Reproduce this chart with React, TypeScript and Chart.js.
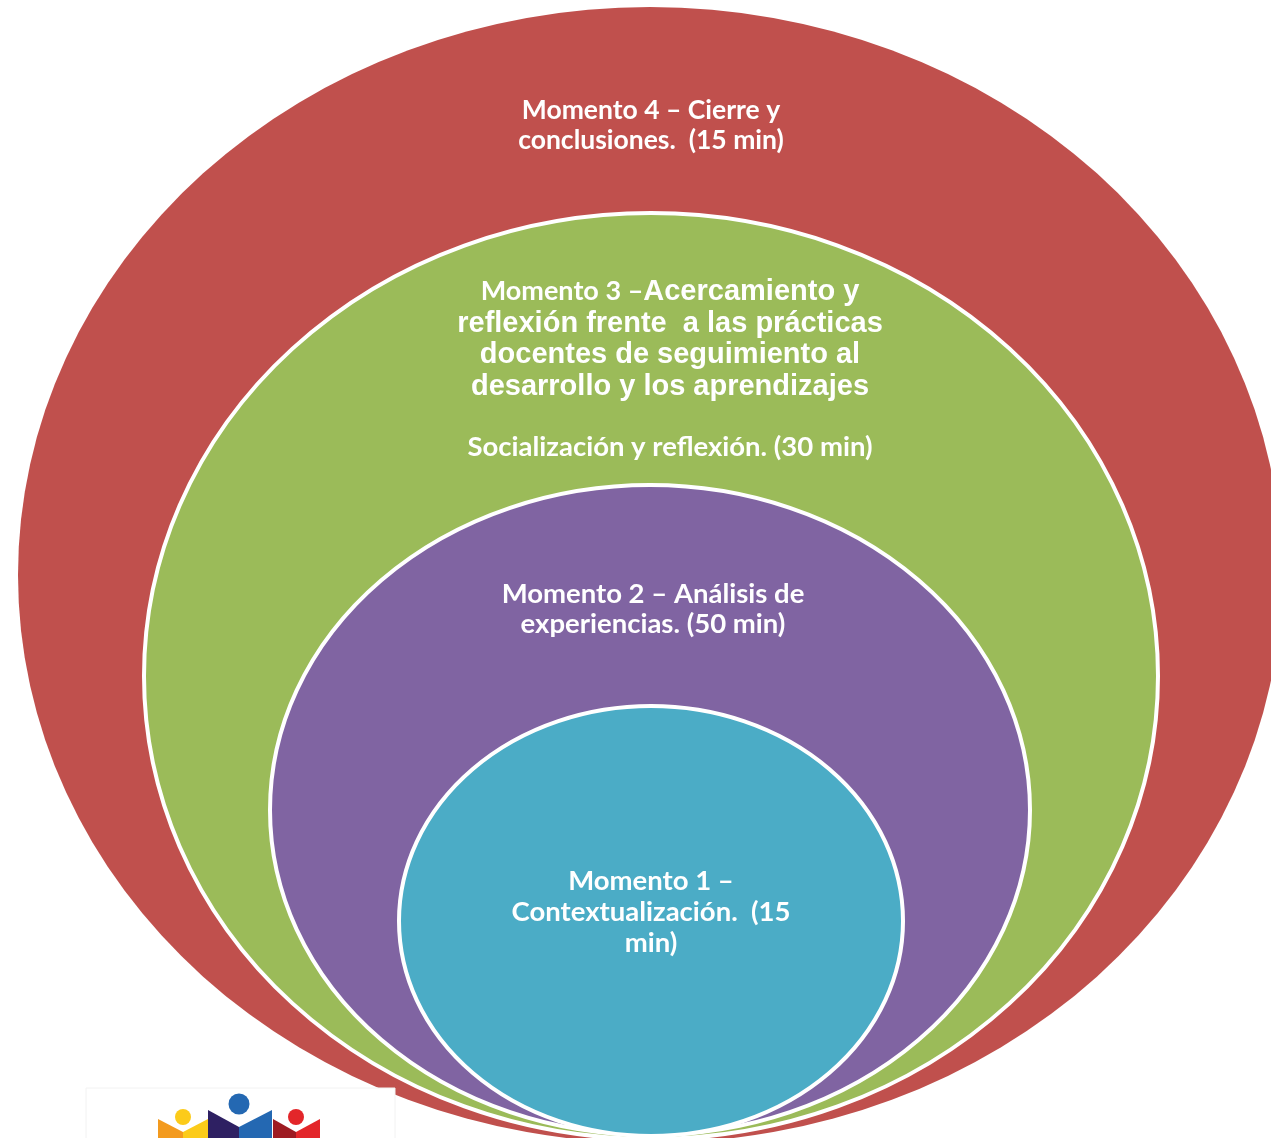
import React, { useEffect, useRef } from 'react';
import { Chart, registerables } from 'chart.js';

Chart.register(...registerables);

const W = 1271;
const H = 1138;

// Moments of the session, from outermost ring to innermost
const moments = ['Momento 4', 'Momento 3', 'Momento 2', 'Momento 1'];
const durationsMin = [15, 30, 50, 15];

// Ellipse geometry in chart units (x: 0..1271, y: 0..1138, y grows downward)
const ellipseCenterX = [650, 651, 650, 651];
const ellipseCenterY = [575, 676, 810, 921];
const ellipseRadiusX = [632, 507, 380, 252];
const ellipseRadiusY = [568, 463, 325, 215];
const ellipseColors = ['#C0504D', '#9BBB59', '#8064A2', '#4BACC6'];

// Label text (a "|" splits a line into two fonts)
const label4Lines = ['Momento 4 – Cierre y', 'conclusiones.  (15 min)'];
const label3Lines = [
  'Momento 3 –|Acercamiento y',
  '|reflexión frente  a las prácticas',
  '|docentes de seguimiento al',
  '|desarrollo y los aprendizajes',
  '',
  'Socialización y reflexión. (30 min)',
];
const label2Lines = ['Momento 2 – Análisis de', 'experiencias. (50 min)'];
const label1Lines = ['Momento 1 –', 'Contextualización.  (15', 'min)'];

const labelBlocks = [label4Lines, label3Lines, label2Lines, label1Lines];
const labelCenterX = [651, 670, 653, 651];
const labelFirstBaseline = [119, 300, 603, 890];
const labelLineGap = [30, 31.5, 30, 31];
const socializationBaseline = 456;

const fontA = (size: number) => `bold ${size}px Lato, "Open Sans", sans-serif`;
const FONT_B = 'bold 29px "Liberation Sans", Arial, sans-serif';
const blockFontSize = [26.5, 27.5, 27.5, 27.5];
const momento3PrefixSize = 27;

const nestedEllipsesPlugin = {
  id: 'nestedEllipses',
  beforeDatasetsDraw(chart: any) {
    const { ctx, scales } = chart;
    const xs = scales.x;
    const ys = scales.y;
    chart.data.datasets.forEach((ds: any, i: number) => {
      const p = ds.data[0];
      const cx = xs.getPixelForValue(p.x);
      const cy = ys.getPixelForValue(p.y);
      const rx = Math.abs(xs.getPixelForValue(p.x + ellipseRadiusX[i]) - cx);
      const ry = Math.abs(ys.getPixelForValue(p.y + ellipseRadiusY[i]) - cy);
      ctx.save();
      ctx.beginPath();
      ctx.ellipse(cx, cy, rx, ry, 0, 0, Math.PI * 2);
      ctx.fillStyle = ds.backgroundColor;
      ctx.fill();
      if (i > 0) {
        ctx.lineWidth = 4;
        ctx.strokeStyle = '#FFFFFF';
        ctx.stroke();
      }
      ctx.restore();
    });
  },
  afterDatasetsDraw(chart: any) {
    const { ctx, scales } = chart;
    const xs = scales.x;
    const ys = scales.y;
    ctx.save();
    ctx.fillStyle = '#FFFFFF';
    ctx.textBaseline = 'alphabetic';
    labelBlocks.forEach((lines, b) => {
      const cx = xs.getPixelForValue(labelCenterX[b]);
      lines.forEach((line, li) => {
        if (!line) return;
        let yVal = labelFirstBaseline[b] + li * labelLineGap[b];
        if (b === 1 && li === 5) yVal = socializationBaseline;
        const y = ys.getPixelForValue(yVal);
        if (line.includes('|')) {
          const [a, c] = line.split('|');
          const fa = fontA(momento3PrefixSize);
          ctx.font = fa;
          const wa = a ? ctx.measureText(a).width : 0;
          ctx.font = FONT_B;
          const wc = ctx.measureText(c).width;
          let x0 = cx - (wa + wc) / 2;
          ctx.textAlign = 'left';
          if (a) {
            ctx.font = fa;
            ctx.fillText(a, x0, y);
            x0 += wa;
          }
          ctx.font = FONT_B;
          ctx.fillText(c, x0, y);
        } else {
          ctx.font = fontA(blockFontSize[b]);
          ctx.textAlign = 'center';
          ctx.fillText(line, cx, y);
        }
      });
    });
    ctx.restore();
  },
  afterDraw(chart: any) {
    const { ctx, scales } = chart;
    const px = (v: number) => scales.x.getPixelForValue(v);
    const py = (v: number) => scales.y.getPixelForValue(v);
    ctx.save();
    // faint logo frame
    ctx.strokeStyle = '#F2F2F2';
    ctx.lineWidth = 1;
    ctx.fillStyle = '#FFFFFF';
    ctx.beginPath();
    ctx.rect(px(86), py(1088), px(395) - px(86), py(1140) - py(1088));
    ctx.fill();
    ctx.stroke();
    const figures = [
      { c: 183, l: 158, r: 208, top: 1119, v: 1132, hy: 1117, hr: 8, cl: '#F39A1E', cr: '#FCCB1A', ch: '#FCCB1A' },
      { c: 239, l: 208, r: 272, top: 1110, v: 1127, hy: 1104, hr: 10.5, cl: '#2E2062', cr: '#2468B2', ch: '#2468B2' },
      { c: 296, l: 273, r: 320, top: 1119, v: 1132, hy: 1117, hr: 8, cl: '#9E1B22', cr: '#E3262A', ch: '#E3262A' },
    ];
    figures.forEach((f) => {
      ctx.fillStyle = f.cl;
      ctx.beginPath();
      ctx.moveTo(px(f.l), py(f.top));
      ctx.lineTo(px(f.c), py(f.v));
      ctx.lineTo(px(f.c), py(1140));
      ctx.lineTo(px(f.l), py(1140));
      ctx.closePath();
      ctx.fill();
      ctx.fillStyle = f.cr;
      ctx.beginPath();
      ctx.moveTo(px(f.r), py(f.top));
      ctx.lineTo(px(f.c), py(f.v));
      ctx.lineTo(px(f.c), py(1140));
      ctx.lineTo(px(f.r), py(1140));
      ctx.closePath();
      ctx.fill();
      ctx.fillStyle = f.ch;
      ctx.beginPath();
      ctx.arc(px(f.c), py(f.hy), f.hr, 0, Math.PI * 2);
      ctx.fill();
    });
    ctx.restore();
  },
};

export default function App() {
  const canvasRef = useRef<HTMLCanvasElement | null>(null);

  useEffect(() => {
    if (!canvasRef.current) return;
    const chart = new Chart(canvasRef.current, {
      type: 'scatter',
      data: {
        datasets: moments.map((m, i) => ({
          label: `${m} (${durationsMin[i]} min)`,
          data: [{ x: ellipseCenterX[i], y: ellipseCenterY[i] }],
          backgroundColor: ellipseColors[i],
          pointRadius: 0,
          pointHoverRadius: 0,
        })),
      },
      options: {
        responsive: false,
        animation: false,
        events: [],
        layout: { padding: 0 },
        plugins: {
          legend: { display: false },
          tooltip: { enabled: false },
        },
        scales: {
          x: { type: 'linear', min: 0, max: W, display: false },
          y: { type: 'linear', min: 0, max: H, reverse: true, display: false },
        },
      },
      plugins: [nestedEllipsesPlugin],
    });
    return () => chart.destroy();
  }, []);

  return (
    <div style={{ position: 'absolute', left: 0, top: 0, width: W, height: H, background: '#FFFFFF' }}>
      <canvas ref={canvasRef} width={W} height={H} style={{ display: 'block' }} />
    </div>
  );
}
